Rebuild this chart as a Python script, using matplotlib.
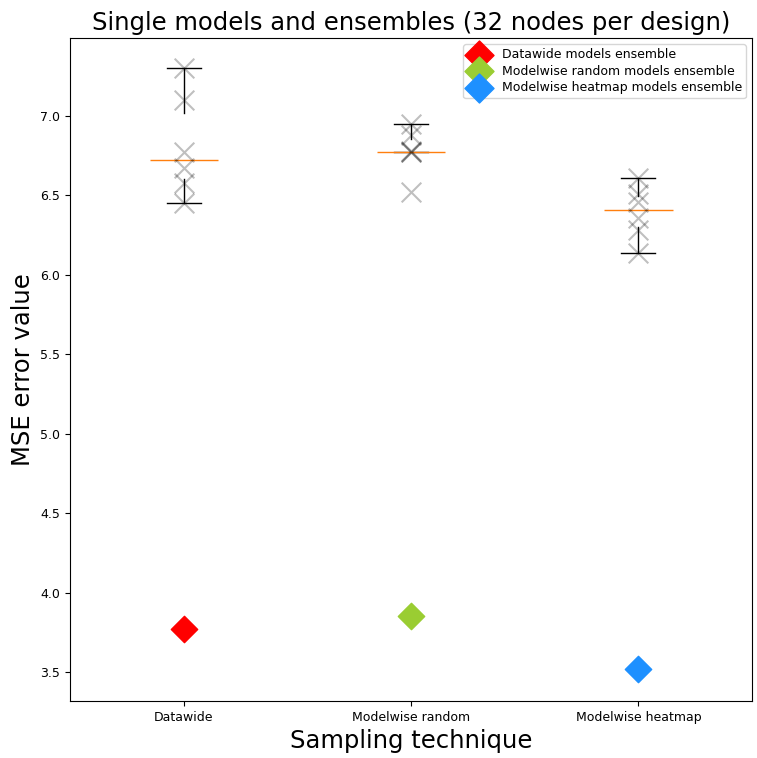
import matplotlib
matplotlib.use("Agg")
import matplotlib.pyplot as plt
import numpy as np

# Sampling techniques and per-model MSE of the single models
techniques = ["Datawide", "Modelwise random", "Modelwise heatmap"]
datawide_mse = [6.45, 6.58, 6.67, 6.77, 7.10, 7.30]
random_mse = [6.52, 6.77, 6.77, 6.78, 6.88, 6.95]
heatmap_mse = [6.14, 6.28, 6.36, 6.46, 6.51, 6.61]

# Ensemble MSE per technique
ensemble_labels = ["Datawide models ensemble",
                   "Modelwise random models ensemble",
                   "Modelwise heatmap models ensemble"]
ensemble_mse = [3.77, 3.855, 3.52]
ensemble_colors = ["red", "yellowgreen", "dodgerblue"]

fig = plt.figure(figsize=(7.57, 7.58), dpi=100)
ax = fig.add_axes([0.0925, 0.0752, 0.901, 0.8748])

single = [datawide_mse, random_mse, heatmap_mse]
positions = np.arange(1, len(techniques) + 1)

ax.boxplot(single, positions=positions, showbox=False, showfliers=False)

for pos, vals in zip(positions, single):
    ax.scatter([pos] * len(vals), vals, marker="x", s=200, color="k",
               alpha=0.25, linewidths=1.5, zorder=3)

for pos, val, lab, col in zip(positions, ensemble_mse, ensemble_labels, ensemble_colors):
    ax.scatter([pos], [val], marker="D", s=180, color=col, label=lab, zorder=4)

ax.set_xticks(positions)
ax.set_xticklabels(techniques, fontsize=9)
ax.tick_params(axis="y", labelsize=9)
ax.set_xlim(0.5, 3.5)
ax.set_ylim(3.318, 7.491)
ax.set_xlabel("Sampling technique", fontsize=17.5)
ax.set_ylabel("MSE error value", fontsize=17.5)
ax.set_title("Single models and ensembles (32 nodes per design)", fontsize=17.5)
ax.legend(loc="upper right", fontsize=9, borderpad=0.3, handletextpad=0.8,
          labelspacing=0.3, markerscale=1.1)

fig.savefig("out.png", dpi=100)
